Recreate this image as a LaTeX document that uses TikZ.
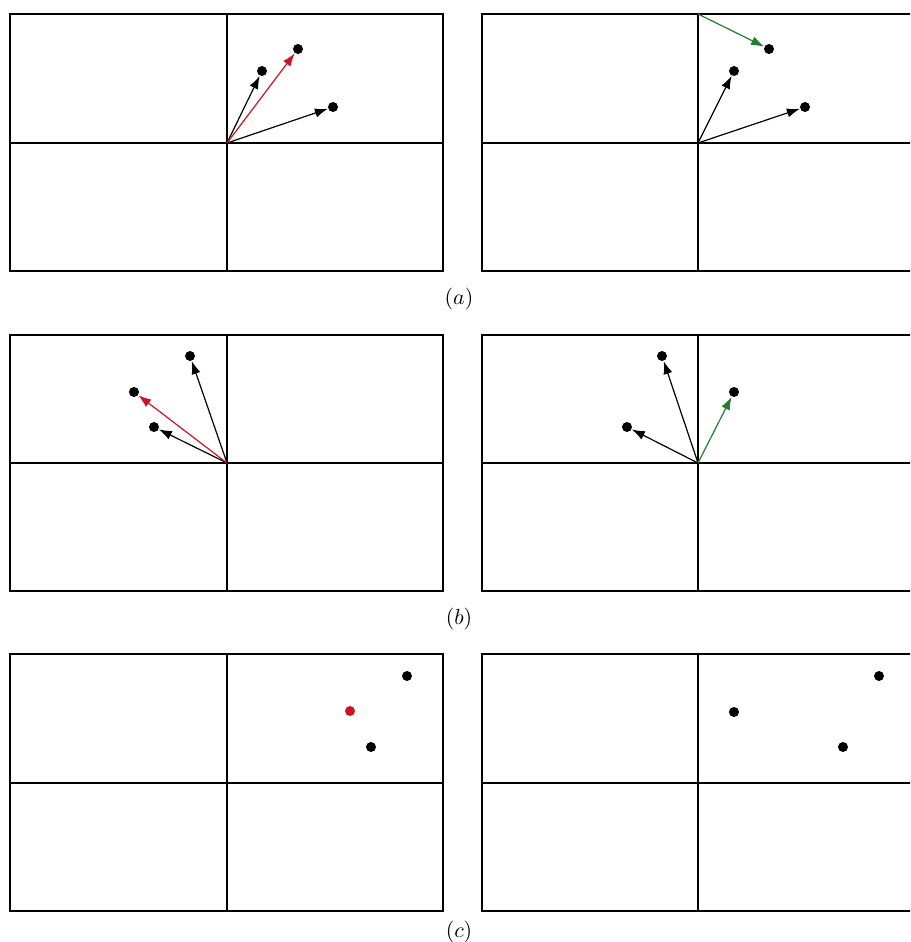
\documentclass[tikz,border=0pt]{standalone}
\usetikzlibrary{arrows.meta}
\definecolor{vred}{RGB}{205,20,35}
\definecolor{vgreen}{RGB}{35,125,45}
\tikzset{
  frame/.style={line width=1pt, black},
  axis/.style={line width=0.9pt, black},
  vec/.style={line width=0.6pt, -{Latex[length=6.5pt,width=4.6pt]}},
  dot/.style={circle, fill=black, inner sep=0pt, minimum size=5pt},
  rdot/.style={circle, fill=vred, inner sep=0pt, minimum size=5pt},
  lab/.style={font=\fontsize{11}{13}\selectfont}
}
\begin{document}
\begin{tikzpicture}[x=0.5pt,y=-0.5pt]
\clip (0,0) rectangle (910,942);
\fill[white] (0,0) rectangle (910,942);
% ---------- panel frames ----------
% (a)
\draw[frame] (10,14) rectangle (443,271);
\draw[axis] (227,14) -- (227,271) (10,143) -- (443,143);
\draw[frame] (482,14) rectangle (915,271);
\draw[axis] (698,14) -- (698,271) (482,143) -- (915,143);
% (b)
\draw[frame] (10,335) rectangle (443,591);
\draw[axis] (227,335) -- (227,591) (10,463) -- (443,463);
\draw[frame] (482,335) rectangle (915,591);
\draw[axis] (698,335) -- (698,591) (482,463) -- (915,463);
% (c)
\draw[frame] (10,654) rectangle (443,911);
\draw[axis] (227,654) -- (227,911) (10,783) -- (443,783);
\draw[frame] (482,654) rectangle (915,911);
\draw[axis] (698,654) -- (698,911) (482,783) -- (915,783);

% ---------- (a) left ----------
\coordinate (oaL) at (227,143);
\node[dot] (aL1) at (262,71) {};
\node[dot] (aL2) at (333,107) {};
\node[dot] (aL3) at (298,49) {};
\draw[vec] (oaL) -- (aL1);
\draw[vec] (oaL) -- (aL2);
\draw[vec, vred] (oaL) -- (aL3);
% ---------- (a) right ----------
\coordinate (oaR) at (698,143);
\coordinate (gaR) at (698,14);
\node[dot] (aR1) at (734,71) {};
\node[dot] (aR2) at (805,107) {};
\node[dot] (aR3) at (769,49) {};
\draw[vec] (oaR) -- (aR1);
\draw[vec] (oaR) -- (aR2);
\draw[vec, vgreen] (gaR) -- (aR3);
\node[lab] (la) at (459,299) {$(a)$};

% ---------- (b) left ----------
\coordinate (obL) at (227,463);
\node[dot] (bL1) at (190,356) {};
\node[dot] (bL2) at (154,427) {};
\node[dot] (bL3) at (134,392) {};
\draw[vec] (obL) -- (bL1);
\draw[vec] (obL) -- (bL2);
\draw[vec, vred] (obL) -- (bL3);
% ---------- (b) right ----------
\coordinate (obR) at (698,463);
\node[dot] (bR1) at (662,356) {};
\node[dot] (bR2) at (627,427) {};
\node[dot] (bR3) at (734,392) {};
\draw[vec] (obR) -- (bR1);
\draw[vec] (obR) -- (bR2);
\draw[vec, vgreen] (obR) -- (bR3);
\node[lab] (lb) at (459,619) {$(b)$};

% ---------- (c) ----------
\node[dot] (cL1) at (407,676) {};
\node[rdot] (cL2) at (350,711) {};
\node[dot] (cL3) at (371,747) {};
\node[dot] (cR1) at (879,676) {};
\node[dot] (cR2) at (734,712) {};
\node[dot] (cR3) at (843,747) {};
\node[lab] (lc) at (459,932) {$(c)$};
\end{tikzpicture}
\end{document}
